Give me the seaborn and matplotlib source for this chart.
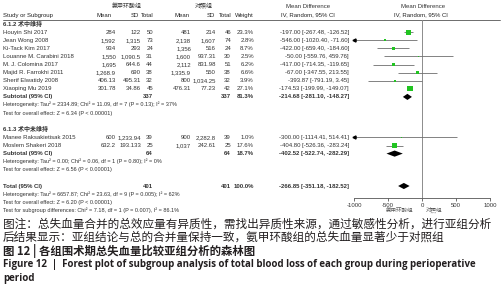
import numpy as np
import pandas as pd
import seaborn as sns
import matplotlib.pyplot as plt

# values (RevMan style), tranexamic acid group vs control group
studies = ["Houyin Shi 2017", "Jean Wong 2008", "Ki-Tack Kim 2017", "Louanne M. Carabini 2018",
           "M. J. Colomina 2017", "Majid R. Farrokhi 2011", "Sherif Elwatidy 2008", "Xiaoping Mu 2019",
           "Manee Raksakietisak 2015", "Moslem Shakeri 2018"]
study_group = [0, 0, 0, 0, 0, 0, 0, 0, 1, 1]
txa_mean = ["284", "1,592", "934", "1,550", "1,695", "1,268.9", "406.13", "301.78", "600", "632.2"]
txa_sd = ["122", "1,315", "293", "1,090.5", "644.6", "690", "495.31", "34.86", "1,233.94", "193.133"]
txa_n = [50, 73, 24, 31, 44, 38, 32, 45, 39, 25]
ctl_mean = ["481", "2,138", "1,356", "1,600", "2,112", "1,335.9", "800", "476.31", "900", "1,037"]
ctl_sd = ["214", "1,607", "516", "937.31", "831.98", "550", "1,034.25", "77.23", "2,282.8", "242.61"]
ctl_n = [46, 74, 24, 30, 51, 38, 32, 42, 39, 25]
weight = [23.3, 2.8, 8.7, 2.5, 6.2, 6.6, 3.9, 27.1, 1.0, 17.6]
md = [-197.00, -546.00, -422.00, -50.00, -417.00, -67.00, -393.87, -174.53, -300.00, -404.80]
ci_lo = [-267.48, -1020.40, -659.40, -559.76, -714.35, -347.55, -791.19, -199.99, -1114.41, -526.36]
ci_hi = [-126.52, -71.60, -184.60, 459.76, -119.65, 213.55, 3.45, -149.07, 514.41, -283.24]

group_titles = ["6.1.2 术中维持", "6.1.3 术中未维持"]
sub_n = [337, 64]
sub_w = [81.3, 18.7]
sub_md = [-214.68, -402.52]
sub_lo = [-281.10, -522.74]
sub_hi = [-148.27, -282.29]
sub_het = ["Heterogeneity: Tau² = 2334.89; Chi² = 11.09, df = 7 (P = 0.13); I² = 37%",
           "Heterogeneity: Tau² = 0.00; Chi² = 0.06, df = 1 (P = 0.80); I² = 0%"]
sub_test = ["Test for overall effect: Z = 6.34 (P < 0.00001)",
            "Test for overall effect: Z = 6.56 (P < 0.00001)"]

tot_n = 401
tot_md, tot_lo, tot_hi = -266.85, -351.18, -182.52
tot_notes = ["Heterogeneity: Tau² = 6657.87; Chi² = 23.63, df = 9 (P = 0.005); I² = 62%",
             "Test for overall effect: Z = 6.20 (P < 0.00001)",
             "Test for subgroup differences: Chi² = 7.18, df = 1 (P = 0.007), I² = 86.1%"]

xticks = [-1000, -500, 0, 500, 1000]
xtick_labels = ["-1000", "-500", "0", "500", "1000"]
arm_names = ["氨甲环酸组", "对照组"]

caption_cn = ["图注：总失血量合并的总效应量有异质性，需找出异质性来源，通过敏感性分析，进行亚组分析",
              "后结果显示：亚组结论与总的合并量保持一致，氨甲环酸组的总失血量显著少于对照组"]
title_cn = "图 12 | 各组围术期总失血量比较亚组分析的森林图"
title_en = ["Figure 12  |  Forest plot of subgroup analysis of total blood loss of each group during perioperative",
            "period"]

sns.set_theme(style="white")
plt.rcParams['font.family'] = ['Liberation Sans', 'Noto Sans CJK SC', 'DejaVu Sans']
plt.rcParams['axes.unicode_minus'] = False

W, H = 504, 300
fig = plt.figure(figsize=(W / 100, H / 100), dpi=100)
fig.patch.set_facecolor("white")
bg = fig.add_axes([0, 0, 1, 1])
bg.set_xlim(0, W)
bg.set_ylim(H, 0)
bg.axis("off")

# row layout in pixels
Y0, DY = 24, 8.1
def ypix(r):
    return Y0 + (r - 1) * DY
def prow(y):
    return (y - Y0) / DY + 1

txt = "#333333"
fs = 4.3
fs_small = 4.0

# baseline alignment keeps digits with commas on the same line as the rest
def put(x, y, s, ha="right", bold=False, size=fs, color=txt):
    bg.text(x, y + size * 0.37, s, ha=ha, va="baseline", fontsize=size,
            fontweight="bold" if bold else "normal", color=color)

# header
put(127, 6, arm_names[0], ha="center")
put(204, 6, arm_names[1], ha="center")
put(308, 6, "Mean Difference", ha="center")
put(423, 6, "Mean Difference", ha="center")
hdr = [(112, "Mean"), (139, "SD"), (154, "Total"), (190, "Mean"), (215, "SD"),
       (232, "Total"), (254, "Weight")]
put(3, 15, "Study or Subgroup", ha="left", color="#222222")
for x, s in hdr:
    put(x, 15, s, color="#222222")
put(308, 15, "IV, Random, 95% CI", ha="center", color="#222222")
put(421, 15, "IV, Random, 95% CI", ha="center", color="#222222")
bg.plot([3, 500], [19.5, 19.5], color="#555555", lw=0.6)

# table rows
cols = [116, 141, 153, 191, 216, 231, 254, 349]
tot_cols = [153, 231, 254, 349]
rows = []
sub_rows = []
r = 1
for g in range(2):
    put(3, ypix(r), group_titles[g], ha="left", bold=True)
    r += 1
    for i in range(len(studies)):
        if study_group[i] != g:
            continue
        rows.append(r)
        vals = [txa_mean[i], txa_sd[i], str(txa_n[i]), ctl_mean[i], ctl_sd[i], str(ctl_n[i]),
                f"{weight[i]:.1f}%", f"{md[i]:.2f} [{ci_lo[i]:.2f}, {ci_hi[i]:.2f}]"]
        put(3, ypix(r), studies[i], ha="left")
        for x, v in zip(cols, vals):
            put(x, ypix(r), v)
        r += 1
    put(3, ypix(r), "Subtotal (95% CI)", ha="left", bold=True)
    sv = [str(sub_n[g]), str(sub_n[g]), f"{sub_w[g]:.1f}%",
          f"{sub_md[g]:.2f} [{sub_lo[g]:.2f}, {sub_hi[g]:.2f}]"]
    for x, v in zip(tot_cols, sv):
        put(x, ypix(r), v, bold=True)
    sub_rows.append(r)
    put(3, ypix(r + 1), sub_het[g], ha="left", size=fs_small)
    put(3, ypix(r + 2), sub_test[g], ha="left", size=fs_small)
    r += 4

tot_row = r
put(3, ypix(r), "Total (95% CI)", ha="left", bold=True)
for x, v in zip(tot_cols, [str(tot_n), str(tot_n), "100.0%",
                           f"{tot_md:.2f} [{tot_lo:.2f}, {tot_hi:.2f}]"]):
    put(x, ypix(r), v, bold=True)
for k, s in enumerate(tot_notes):
    put(3, ypix(r + 1 + k), s, ha="left", size=fs_small)

# forest panel
top_px, bot_px = 20, 198
fx0, fx1 = 354, 490
fa = fig.add_axes([fx0 / W, 1 - bot_px / H, (fx1 - fx0) / W, (bot_px - top_px) / H])
fa.patch.set_alpha(0)
fa.set_xlim(-1000, 1000)
fa.set_ylim(prow(bot_px), prow(top_px))
fa.axvline(0, color="#8c8c8c", lw=0.7, zorder=1)

grey = "#6e6e6e"
for i in range(len(studies)):
    lo, hi = max(ci_lo[i], -1000), min(ci_hi[i], 1000)
    fa.hlines(rows[i], lo, hi, color=grey, lw=0.6, zorder=2)
    if ci_lo[i] < -1000:
        fa.plot([-1000], [rows[i]], marker="<", ms=2.2, color="black", clip_on=False, zorder=3)

df = pd.DataFrame({"md": md, "row": rows, "w": weight})
sns.scatterplot(data=df, x="md", y="row", size="w", sizes=(0, 16), size_norm=(0, 30),
                marker="s", color="#21c421", edgecolor="none", linewidth=0,
                legend=False, ax=fa, zorder=4)

half = 0.38
for m, lo, hi, rr in zip(sub_md + [tot_md], sub_lo + [tot_lo], sub_hi + [tot_hi], sub_rows + [tot_row]):
    fa.fill([lo, m, hi, m], [rr, rr - half, rr, rr + half], color="black", lw=0, zorder=5)

fa.set_xlabel("")
fa.set_ylabel("")
fa.set_yticks([])
fa.set_xticks(xticks)
fa.set_xticklabels(xtick_labels)
for sp in ["top", "left", "right"]:
    fa.spines[sp].set_visible(False)
fa.spines["bottom"].set_color("#555555")
fa.spines["bottom"].set_linewidth(0.6)
fa.tick_params(axis="x", bottom=True, length=2.5, width=0.6, color="#555555",
               labelsize=4.3, pad=1, labelcolor=txt)

put(400, 210, arm_names[0], ha="center", size=4.0, color="#555555")
put(434, 210, arm_names[1], ha="center", size=4.0, color="#555555")

# caption under the figure
cap = "#231f20"
for k, s in enumerate(caption_cn):
    bg.text(3, 224 + 13.5 * k, s, ha="left", va="center", fontsize=8.4, color=cap,
            family=["Noto Sans CJK SC"])
bg.text(3, 251, title_cn, ha="left", va="center", fontsize=8.2, color=cap,
        family=["Noto Sans CJK SC"], fontweight="bold")
for k, s in enumerate(title_en):
    bg.text(3, 265 + 14 * k, s, ha="left", va="center", fontsize=7.0, color=cap,
            family=["Open Sans", "DejaVu Sans"], fontweight="bold")

fig.savefig("out.png", dpi=100, facecolor="white")
